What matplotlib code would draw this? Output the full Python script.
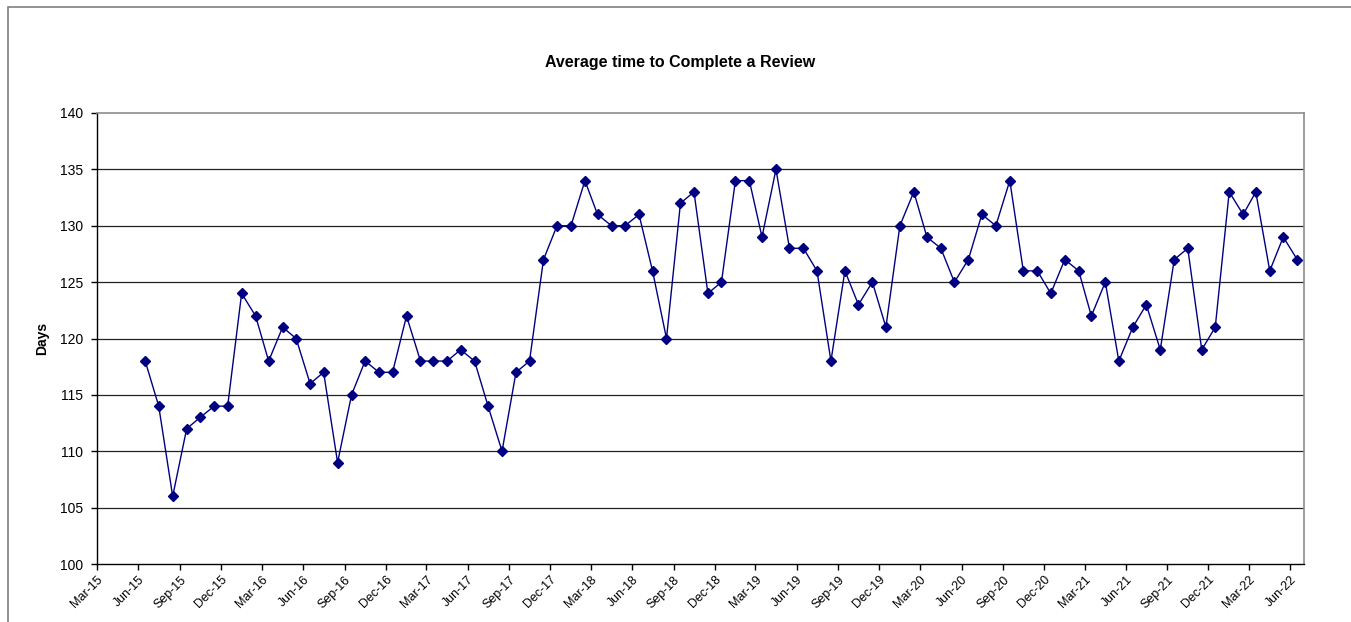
import numpy as np
import matplotlib.pyplot as plt
from matplotlib.patches import Rectangle
import datetime as dt

# monthly values, Jun-15 .. Jun-22
start_year, start_month = 2015, 6
days = [
    118, 114, 106, 112, 113, 114, 114,                          # 2015 Jun-Dec
    124, 122, 118, 121, 120, 116, 117, 109, 115, 118, 117, 117,  # 2016
    122, 118, 118, 118, 119, 118, 114, 110, 117, 118, 127, 130,  # 2017
    130, 134, 131, 130, 130, 131, 126, 120, 132, 133, 124, 125,  # 2018
    134, 134, 129, 135, 128, 128, 126, 118, 126, 123, 125, 121,  # 2019
    130, 133, 129, 128, 125, 127, 131, 130, 134, 126, 126, 124,  # 2020
    127, 126, 122, 125, 118, 121, 123, 119, 127, 128, 119, 121,  # 2021
    133, 131, 133, 126, 129, 127,                               # 2022 Jan-Jun
]

def month_date(i, day=1):
    m = start_month - 1 + i
    return dt.date(start_year + m // 12, m % 12 + 1, day)

dates = [month_date(i, 16) for i in range(len(days))]

# quarterly tick labels Mar-15 .. Jun-22
tick_dates = []
y, m = 2015, 3
while (y, m) <= (2022, 6):
    tick_dates.append(dt.date(y, m, 1))
    m += 3
    if m > 12:
        m -= 12
        y += 1
tick_labels = [d.strftime('%b-%y') for d in tick_dates]

plt.rcParams['font.family'] = ['Liberation Sans', 'DejaVu Sans']

W, H = 1351, 622
fig = plt.figure(figsize=(W / 100, H / 100), dpi=100)

# outer chart frame (runs off the right and bottom edges)
fig.patches.append(Rectangle((8 / W, -0.1), 1.2, 1 - 7 / H + 0.1, transform=fig.transFigure,
                             fill=False, edgecolor='#7f7f7f', linewidth=1.2))

ax = fig.add_axes([97 / W, 1 - 564 / H, (1304 - 97) / W, (564 - 113) / H])

for v in range(105, 140, 5):
    ax.axhline(v, color='#222222', linewidth=0.9, zorder=1)

ax.plot(dates, days, color='#000080', linewidth=1.0, marker='D', markersize=4.6,
        zorder=3)

ax.set_xlim(dt.date(2015, 3, 1), dt.date(2022, 7, 1))
ax.set_ylim(100, 140)
ax.set_yticks(np.arange(100, 141, 5))
ax.set_xticks(tick_dates)
ax.set_xticklabels(tick_labels, rotation=45, ha='right', rotation_mode='anchor',
                   fontsize=9)
ax.tick_params(axis='y', labelsize=10, length=4, width=1, direction='out', pad=6)
ax.tick_params(axis='x', length=4, width=1, direction='out', pad=3)

for s in ['top', 'right']:
    ax.spines[s].set_color('#8c8c8c')
    ax.spines[s].set_linewidth(1.2)
for s in ['left', 'bottom']:
    ax.spines[s].set_color('black')
    ax.spines[s].set_linewidth(1.0)

ax.set_ylabel('Days', fontsize=10, fontweight='bold', labelpad=8)
fig.text(680 / W, 1 - 63 / H, 'Average time to Complete a Review', ha='center',
         va='center', fontsize=11.5, fontweight='bold')

fig.savefig('out.png', dpi=100)
